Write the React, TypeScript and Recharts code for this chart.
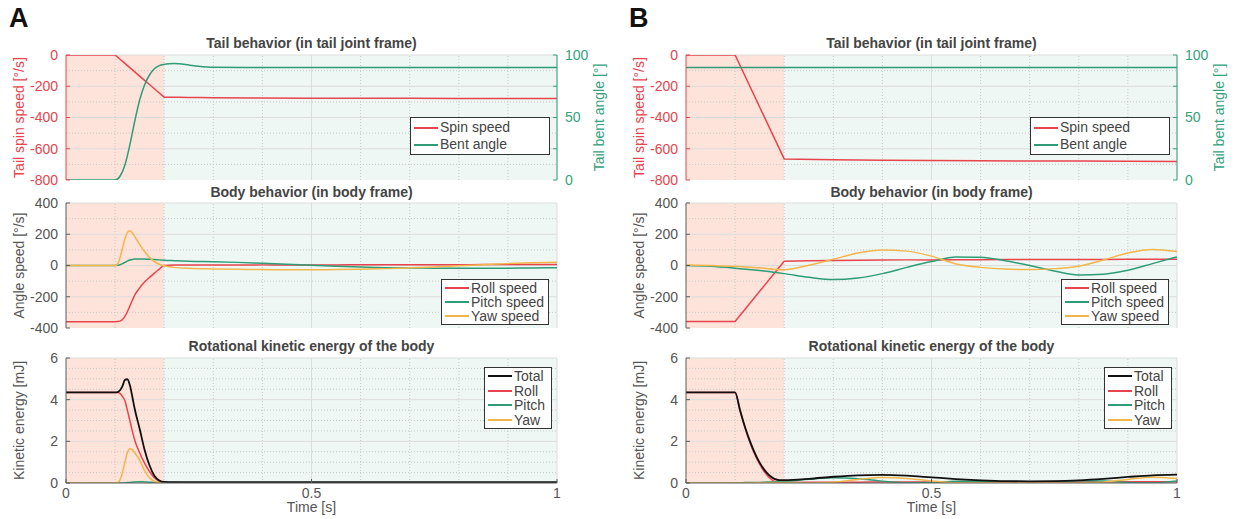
import React from "react";
import { LineChart, Line, XAxis, YAxis, ReferenceArea, ReferenceLine, Legend } from "recharts";

const RED = "#e8444e";
const GREEN = "#2f9c77";
const YELLOW = "#f3b64c";
const BLACK = "#111111";
const AXIS = "#5c5c5c";
const TEXT = "#555555";
const TITLE = "#444444";
const FONT = '"Liberation Sans", Arial, Helvetica, sans-serif';

// ---- panel A : tail ----
const tTailA = [0, 0.1, 0.11, 0.12, 0.13, 0.14, 0.15, 0.16, 0.17, 0.18, 0.19, 0.2, 0.21, 0.22, 0.23, 0.25, 0.27, 0.3, 0.4, 0.5, 0.6, 0.7, 0.8, 0.9, 1.0];
const spinA = [0, 0, -27, -54, -81, -108, -135, -162, -189, -216, -243, -270, -271, -271, -271, -272, -272, -273, -275, -276, -277, -277, -278, -278, -279];
const bentA = [0, 0, 3, 12, 28, 47, 64, 76, 84, 89, 91.5, 92.5, 93, 93.2, 93, 92, 91, 90.2, 90, 90, 90, 90, 90, 90, 90];

// ---- panel B : tail ----
const tTailB = [0, 0.1, 0.2, 0.3, 0.4, 0.5, 0.6, 0.7, 0.8, 0.9, 1.0];
const spinB = [0, 0, -665, -670, -673, -675, -677, -678, -679, -680, -681];
const bentB = [90, 90, 90, 90, 90, 90, 90, 90, 90, 90, 90];

// ---- panel A : body ----
const tBodyA = [0, 0.1, 0.105, 0.11, 0.115, 0.12, 0.125, 0.13, 0.135, 0.14, 0.15, 0.16, 0.17, 0.18, 0.19, 0.2, 0.22, 0.25, 0.3, 0.35, 0.4, 0.45, 0.5, 0.55, 0.6, 0.65, 0.7, 0.75, 0.8, 0.85, 0.9, 0.95, 1.0];
const rollA = [-360, -360, -359, -356, -346, -326, -296, -260, -224, -190, -143, -106, -76, -49, -23, 0, 3, 3, 3, 3, 4, 4, 4, 4, 5, 5, 5, 5, 5, 6, 6, 6, 6];
const pitchA = [0, 0, 1, 5, 12, 20, 28, 35, 39, 41, 42, 41, 40, 38, 36, 34, 31, 27, 24, 20, 14, 8, 1, -5, -10, -14, -16, -17, -18, -18, -17, -16, -14];
const yawA = [0, 0, 10, 50, 110, 170, 210, 222, 210, 185, 135, 90, 52, 25, 8, -2, -12, -18, -22, -24, -26, -27, -27, -26, -24, -20, -15, -9, -2, 5, 12, 17, 21];

// ---- panel A : energy (same time base as body) ----
const totalEA = [4.35, 4.35, 4.36, 4.45, 4.65, 4.95, 4.98, 4.7, 4.15, 3.55, 2.6, 1.6, 0.85, 0.35, 0.12, 0.05, 0.04, 0.04, 0.04, 0.04, 0.04, 0.04, 0.04, 0.04, 0.04, 0.04, 0.04, 0.04, 0.04, 0.04, 0.04, 0.04, 0.04];
const rollEA = [4.35, 4.35, 4.35, 4.3, 4.15, 3.95, 3.5, 3.0, 2.5, 2.05, 1.45, 0.95, 0.55, 0.25, 0.08, 0.01, 0, 0, 0, 0, 0, 0, 0, 0, 0, 0, 0, 0, 0, 0, 0, 0, 0];
const pitchEA = [0, 0, 0, 0, 0, 0.01, 0.02, 0.03, 0.04, 0.05, 0.06, 0.05, 0.04, 0.03, 0.03, 0.02, 0.02, 0.01, 0.01, 0.01, 0, 0, 0, 0, 0, 0, 0, 0, 0, 0, 0, 0, 0];
const yawEA = [0, 0, 0.01, 0.15, 0.5, 1.0, 1.45, 1.65, 1.6, 1.45, 1.1, 0.6, 0.25, 0.08, 0.02, 0, 0, 0, 0, 0, 0, 0, 0, 0, 0, 0, 0, 0, 0, 0, 0, 0, 0];

// ---- panel B : body ----
const tBodyB = [0, 0.05, 0.1, 0.15, 0.2, 0.25, 0.3, 0.35, 0.4, 0.45, 0.5, 0.55, 0.6, 0.65, 0.7, 0.75, 0.8, 0.85, 0.9, 0.95, 1.0];
const rollB = [-358, -358, -358, -165, 27, 30, 32, 34, 35, 36, 36, 37, 37, 38, 38, 38, 39, 39, 40, 40, 40];
const pitchB = [0, -5, -17, -32, -52, -75, -90, -80, -52, -12, 25, 54, 53, 30, 0, -35, -60, -56, -30, 12, 55];
const yawB = [4, 0, -5, -15, -27, 2, 40, 80, 100, 92, 60, 10, -12, -23, -26, -20, -5, 35, 80, 103, 90];

// ---- panel B : energy ----
const tEnB = [0, 0.05, 0.1, 0.11, 0.12, 0.13, 0.14, 0.15, 0.16, 0.17, 0.18, 0.19, 0.2, 0.25, 0.3, 0.35, 0.4, 0.45, 0.5, 0.55, 0.6, 0.65, 0.7, 0.75, 0.8, 0.85, 0.9, 0.95, 1.0];
const totalEB = [4.35, 4.35, 4.35, 3.5, 2.7, 2.02, 1.45, 0.98, 0.62, 0.36, 0.2, 0.14, 0.14, 0.2, 0.3, 0.37, 0.39, 0.35, 0.27, 0.19, 0.13, 0.09, 0.08, 0.09, 0.13, 0.2, 0.29, 0.37, 0.4];
const rollEB = [4.35, 4.35, 4.35, 3.47, 2.66, 1.96, 1.38, 0.9, 0.52, 0.25, 0.08, 0.01, 0.03, 0.04, 0.04, 0.04, 0.05, 0.05, 0.05, 0.05, 0.05, 0.05, 0.05, 0.05, 0.05, 0.05, 0.06, 0.06, 0.06];
const pitchEB = [0, 0, 0.01, 0.01, 0.02, 0.02, 0.03, 0.03, 0.04, 0.05, 0.06, 0.07, 0.08, 0.18, 0.25, 0.2, 0.09, 0.01, 0.02, 0.09, 0.09, 0.03, 0, 0.04, 0.11, 0.1, 0.03, 0.01, 0.1];
const yawEB = [0, 0, 0, 0, 0, 0, 0.01, 0.01, 0.01, 0.02, 0.02, 0.02, 0.02, 0, 0.04, 0.17, 0.26, 0.22, 0.1, 0.01, 0.01, 0.02, 0.02, 0.01, 0, 0.04, 0.17, 0.28, 0.22];

const xTicks = [0, 0.5, 1];
const xMinor = [0.1, 0.2, 0.3, 0.4, 0.6, 0.7, 0.8, 0.9];

const COL_W = 620;
const PLOT_L = 66;
const PLOT_R = 63;
const PLOT_H = 125;
const AX_W = 50;
const MAJOR = "#dcdcdc";
const MINOR = "#c6c6c6";

type Series = { key: string; name: string; color: string; values: number[]; axis?: string | number; curve?: "linear" | "monotone"; width?: number };

type PanelProps = {
  top: number;
  height: number;
  mTop: number;
  titleTop: number;
  title: string;
  times: number[];
  series: Series[];
  legendOrder: string[];
  yDomain: [number, number];
  yTicks: number[];
  yMinor: number[];
  yLabel: string;
  yColor?: string;
  right?: { label: string; domain: [number, number]; ticks: number[]; shown: number[]; color: string };
  xLabels?: boolean;
  legend: { left: number; top: number; width: number; rowH: number };
};

const RotLabel = ({ px, py, text, color }: { px: number; py: number; text: string; color: string }) => (
  <text x={px} y={py} transform={`rotate(-90 ${px} ${py})`} textAnchor="middle" dominantBaseline="central" fill={color} fontSize={14} fontFamily={FONT}>
    {text}
  </text>
);

const XLabel = ({ px, py }: { px: number; py: number }) => (
  <text x={px} y={py} textAnchor="middle" fill={TEXT} fontSize={14} fontFamily={FONT}>
    Time [s]
  </text>
);

const LegendBox = ({ items, rowH, width }: { items: Series[]; rowH: number; width: number }) => (
  <div style={{ width, boxSizing: "border-box", background: "#fff", border: "1px solid #333", padding: "1px 3px", fontFamily: FONT, fontSize: 14, color: "#444" }}>
    {items.map((s) => (
      <div key={s.key} style={{ display: "flex", alignItems: "center", height: rowH, lineHeight: `${rowH}px`, whiteSpace: "nowrap" }}>
        <span style={{ display: "inline-block", width: 24, height: 2, background: s.color, marginRight: 2 }} />
        <span>{s.name}</span>
      </div>
    ))}
  </div>
);

function Panel(p: PanelProps) {
  const data = p.times.map((t, i) => {
    const row: Record<string, number> = { t };
    p.series.forEach((s) => (row[s.key] = s.values[i]));
    return row;
  });
  const xAxisH = p.xLabels ? 36 : 0;
  const mBottom = p.height - p.mTop - PLOT_H - xAxisH;
  const mRight = p.right ? PLOT_R - AX_W : PLOT_R;
  const yColor = p.yColor ?? AXIS;
  const yText = p.yColor ?? TEXT;
  const legendItems = p.legendOrder.map((k) => p.series.find((s) => s.key === k)!);
  const midY = p.mTop + PLOT_H / 2;
  const yMajor = p.yTicks.filter((v) => v !== p.yDomain[0]);
  return (
    <div style={{ position: "absolute", left: 0, top: p.top, width: COL_W, height: p.height }}>
      <div style={{ position: "absolute", left: PLOT_L, width: COL_W - PLOT_L - PLOT_R, top: p.titleTop - p.top, textAlign: "center", fontFamily: FONT, fontWeight: "bold", fontSize: 14, lineHeight: "14px", color: TITLE, whiteSpace: "nowrap" }}>
        {p.title}
      </div>
      <LineChart width={COL_W} height={p.height} data={data} margin={{ top: p.mTop, right: mRight, bottom: mBottom, left: PLOT_L - AX_W }}>
        <ReferenceArea x1={0} x2={0.2} fill="#fde3d9" fillOpacity={1} stroke="none" />
        <ReferenceArea x1={0.2} x2={1} fill="#eef7f3" fillOpacity={1} stroke="none" />
        {xMinor.map((v) => (
          <ReferenceLine key={`x${v}`} x={v} stroke={MINOR} strokeDasharray="1 2" />
        ))}
        {p.yMinor.map((v) => (
          <ReferenceLine key={`y${v}`} y={v} stroke={MINOR} strokeDasharray="1 2" />
        ))}
        {[0.5, 1].map((v) => (
          <ReferenceLine key={`X${v}`} x={v} stroke={MAJOR} />
        ))}
        {yMajor.map((v) => (
          <ReferenceLine key={`Y${v}`} y={v} stroke={MAJOR} />
        ))}
        <XAxis
          dataKey="t"
          type="number"
          domain={[0, 1]}
          ticks={xTicks}
          interval={0}
          allowDataOverflow
          height={xAxisH}
          stroke={AXIS}
          tickSize={-4}
          tickMargin={p.xLabels ? 9 : 0}
          tickFormatter={(v: number) => (p.xLabels ? String(v) : "")}
          tick={{ fill: TEXT, fontSize: 14, fontFamily: FONT }}
          label={p.xLabels ? <XLabel px={PLOT_L + (COL_W - PLOT_L - PLOT_R) / 2} py={p.mTop + PLOT_H + 29} /> : undefined}
        />
        <YAxis
          type="number"
          width={AX_W}
          domain={p.yDomain}
          ticks={p.yTicks}
          interval={0}
          allowDataOverflow
          stroke={yColor}
          tickSize={-4}
          tickMargin={12}
          tick={{ fill: yText, fontSize: 14, fontFamily: FONT }}
          label={<RotLabel px={19} py={midY} text={p.yLabel} color={yText} />}
        />
        {p.right && (
          <YAxis
            yAxisId="right"
            orientation="right"
            type="number"
            width={AX_W}
            domain={p.right.domain}
            ticks={p.right.ticks}
            interval={0}
            allowDataOverflow
            stroke={p.right.color}
            tickSize={-4}
            tickMargin={12}
            tickFormatter={(v: number) => (p.right!.shown.includes(v) ? String(v) : "")}
            tick={{ fill: p.right.color, fontSize: 14, fontFamily: FONT }}
            label={<RotLabel px={COL_W - 21} py={midY} text={p.right.label} color={p.right.color} />}
          />
        )}
        {p.series.map((s) => (
          <Line
            key={s.key}
            dataKey={s.key}
            name={s.name}
            yAxisId={s.axis ?? 0}
            type={s.curve ?? "monotone"}
            stroke={s.color}
            strokeWidth={s.width ?? 1.5}
            dot={false}
            activeDot={false}
            isAnimationActive={false}
          />
        ))}
        <Legend
          layout="vertical"
          align="center"
          verticalAlign="middle"
          wrapperStyle={{ left: p.legend.left, top: p.legend.top, width: p.legend.width }}
          content={() => <LegendBox items={legendItems} rowH={p.legend.rowH} width={p.legend.width} />}
        />
      </LineChart>
    </div>
  );
}

function Column({ label, tT, spin, bent, tB, roll, pitch, yaw, tE, eTot, eRoll, ePitch, eYaw }: any) {
  return (
    <>
      <div style={{ position: "absolute", left: 9, top: 5, fontFamily: FONT, fontWeight: "bold", fontSize: 27, lineHeight: "27px", color: "#111" }}>{label}</div>
      <Panel
        top={30}
        height={170}
        mTop={25}
        titleTop={36}
        title="Tail behavior (in tail joint frame)"
        times={tT}
        series={[
          { key: "spin", name: "Spin speed", color: RED, values: spin, curve: "linear" },
          { key: "bent", name: "Bent angle", color: GREEN, values: bent, axis: "right" },
        ]}
        legendOrder={["spin", "bent"]}
        yDomain={[-800, 0]}
        yTicks={[-800, -600, -400, -200, 0]}
        yMinor={[-700, -500, -300, -100]}
        yLabel="Tail spin speed [°/s]"
        yColor={RED}
        right={{ label: "Tail bent angle [°]", domain: [0, 100], ticks: [0, 25, 50, 75, 100], shown: [0, 50, 100], color: "#35a27c" }}
        legend={{ left: 410, top: 87, width: 140, rowH: 17 }}
      />
      <Panel
        top={185}
        height={150}
        mTop={18}
        titleTop={185}
        title="Body behavior (in body frame)"
        times={tB}
        series={[
          { key: "roll", name: "Roll speed", color: RED, values: roll, curve: label === "B" ? "linear" : "monotone" },
          { key: "pitch", name: "Pitch speed", color: GREEN, values: pitch },
          { key: "yaw", name: "Yaw speed", color: YELLOW, values: yaw },
        ]}
        legendOrder={["roll", "pitch", "yaw"]}
        yDomain={[-400, 400]}
        yTicks={[-400, -200, 0, 200, 400]}
        yMinor={[-300, -100, 100, 300]}
        yLabel="Angle speed [°/s]"
        legend={{ left: 441, top: 94, width: 108, rowH: 14 }}
      />
      <Panel
        top={340}
        height={179}
        mTop={18}
        titleTop={339}
        title="Rotational kinetic energy of the body"
        times={tE}
        series={[
          { key: "eroll", name: "Roll", color: RED, values: eRoll },
          { key: "epitch", name: "Pitch", color: GREEN, values: ePitch },
          { key: "eyaw", name: "Yaw", color: YELLOW, values: eYaw },
          { key: "etot", name: "Total", color: BLACK, values: eTot, width: 1.8 },
        ]}
        legendOrder={["etot", "eroll", "epitch", "eyaw"]}
        yDomain={[0, 6]}
        yTicks={[0, 2, 4, 6]}
        yMinor={[0.5, 1, 1.5, 2.5, 3, 3.5, 4.5, 5, 5.5]}
        yLabel="Kinetic energy [mJ]"
        xLabels
        legend={{ left: 484, top: 27, width: 68, rowH: 14.5 }}
      />
    </>
  );
}

export default function App() {
  return (
    <div style={{ position: "absolute", left: 0, top: 0, width: 1237, height: 519, background: "#fff", overflow: "hidden" }}>
      <div style={{ position: "absolute", left: 0, top: 0, width: COL_W, height: 519 }}>
        <Column label="A" tT={tTailA} spin={spinA} bent={bentA} tB={tBodyA} roll={rollA} pitch={pitchA} yaw={yawA} tE={tBodyA} eTot={totalEA} eRoll={rollEA} ePitch={pitchEA} eYaw={yawEA} />
      </div>
      <div style={{ position: "absolute", left: 620, top: 0, width: COL_W, height: 519 }}>
        <Column label="B" tT={tTailB} spin={spinB} bent={bentB} tB={tBodyB} roll={rollB} pitch={pitchB} yaw={yawB} tE={tEnB} eTot={totalEB} eRoll={rollEB} ePitch={pitchEB} eYaw={yawEB} />
      </div>
    </div>
  );
}
